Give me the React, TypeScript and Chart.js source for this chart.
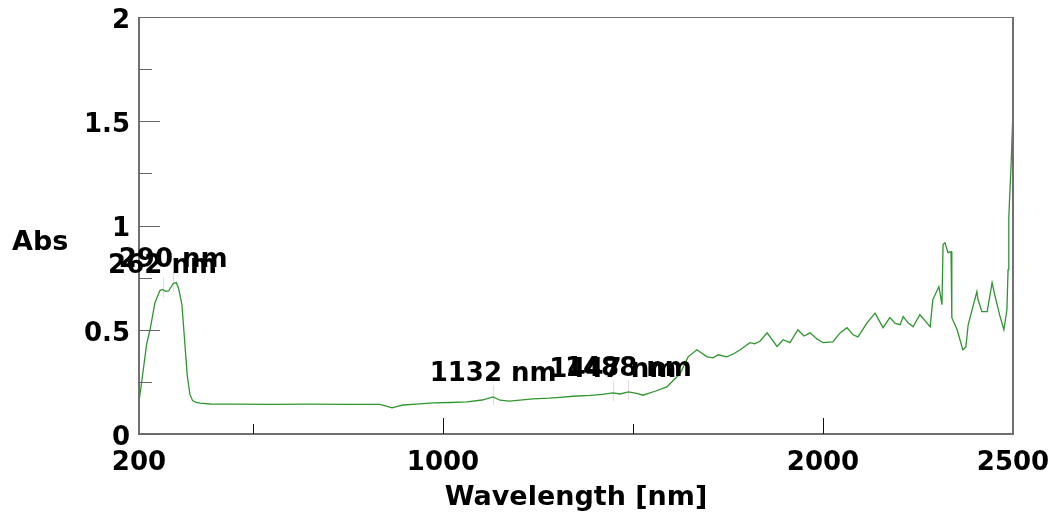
import React, { useEffect, useRef } from 'react';
import { Chart, registerables } from 'chart.js';

Chart.register(...registerables);

const FONT = 'DejaVu Sans';

const wavelengths = [
  200, 210, 220, 229, 242, 255, 262, 270, 278, 290, 298, 304, 313, 320, 327, 334, 341, 350, 361, 387,
  450, 550, 650, 750, 834, 853, 866, 880, 895, 930, 974, 1020, 1063, 1103, 1132, 1150, 1175, 1237,
  1280, 1308, 1342, 1387, 1420, 1447, 1466, 1488, 1510, 1526, 1558, 1589, 1624, 1645, 1668, 1695,
  1711, 1724, 1747, 1765, 1782, 1808, 1820, 1834, 1853, 1879, 1895, 1913, 1934, 1950, 1966, 1985,
  2000, 2026, 2045, 2063, 2079, 2092, 2116, 2137, 2158, 2176, 2190, 2203, 2211, 2224, 2237, 2255,
  2270, 2282, 2289, 2305, 2313, 2316, 2321, 2329, 2337, 2339, 2353, 2368, 2376, 2382, 2405, 2408,
  2418, 2432, 2445, 2453, 2466, 2476, 2484, 2487, 2489, 2492, 2495, 2498, 2500,
];

const absorbance = [
  0.154, 0.29, 0.43, 0.5, 0.63, 0.688, 0.693, 0.684, 0.686, 0.722, 0.726, 0.7, 0.62, 0.45, 0.28, 0.19, 0.16, 0.152, 0.148, 0.144,
  0.143, 0.142, 0.143, 0.142, 0.142, 0.132, 0.125, 0.132, 0.139, 0.143, 0.149, 0.151, 0.154, 0.163, 0.178, 0.162, 0.158, 0.168,
  0.172, 0.176, 0.181, 0.185, 0.19, 0.197, 0.192, 0.202, 0.195, 0.186, 0.205, 0.226, 0.29, 0.37, 0.404, 0.37,
  0.365, 0.38, 0.37, 0.385, 0.404, 0.438, 0.432, 0.445, 0.485, 0.42, 0.452, 0.438, 0.5, 0.47, 0.485, 0.455,
  0.438, 0.442, 0.485, 0.51, 0.476, 0.466, 0.533, 0.58, 0.51, 0.558, 0.53, 0.524, 0.563, 0.533, 0.514, 0.572,
  0.54, 0.514, 0.644, 0.707, 0.62, 0.909, 0.918, 0.87, 0.875, 0.558, 0.5, 0.404, 0.418, 0.524, 0.683, 0.644,
  0.587, 0.587, 0.726, 0.659, 0.563, 0.5, 0.596, 0.788, 1.04, 1.17, 1.29, 1.45, 1.55,
];

const xTickLabels = [200, 1000, 2000, 2500];
const xMajorTicks = [1000, 2000];
const xMinorTicks = [500, 1500];
const yTickLabels = [0, 0.5, 1, 1.5, 2];
const yMinorTicks = [0.25, 0.75, 1.25, 1.75];

const peakNm = [262, 290, 1132, 1447, 1488];
const peakAbs = [0.693, 0.722, 0.178, 0.197, 0.202];
const peakText = ['262 nm', '290 nm', '1132 nm', '1447 nm', '1488 nm'];

const yAxisLabel = 'Abs';
const xAxisLabel = 'Wavelength [nm]';

const clearPadding = (s: any) => {
  s.paddingLeft = 0;
  s.paddingRight = 0;
  s.paddingTop = 0;
  s.paddingBottom = 0;
};

const decorPlugin = {
  id: 'decor',
  beforeDatasetsDraw(chart: any) {
    const { ctx, scales } = chart;
    const x = scales.x;
    const y = scales.y;
    ctx.save();
    ctx.strokeStyle = '#e4dae4';
    ctx.lineWidth = 1;
    peakNm.forEach((nm, i) => {
      const px = Math.round(x.getPixelForValue(nm)) + 0.5;
      const py = y.getPixelForValue(peakAbs[i]);
      ctx.beginPath();
      ctx.moveTo(px, py - 12);
      ctx.lineTo(px, py + 8);
      ctx.stroke();
    });
    ctx.restore();
  },
  afterDatasetsDraw(chart: any) {
    const { ctx, chartArea: a, scales } = chart;
    const x = scales.x;
    const y = scales.y;
    ctx.save();
    // frame
    ctx.strokeStyle = '#707070';
    ctx.lineWidth = 2;
    ctx.beginPath();
    ctx.moveTo(a.left, a.top);
    ctx.lineTo(a.left, a.bottom);
    ctx.lineTo(a.right, a.bottom);
    ctx.lineTo(a.right, a.top);
    ctx.stroke();
    ctx.lineWidth = 1;
    ctx.beginPath();
    ctx.moveTo(a.left, a.top + 0.5);
    ctx.lineTo(a.right, a.top + 0.5);
    ctx.stroke();

    // y ticks (inside)
    ctx.strokeStyle = '#666666';
    ctx.lineWidth = 1;
    yTickLabels.forEach((v) => {
      const py = Math.round(y.getPixelForValue(v)) + 0.5;
      ctx.beginPath();
      ctx.moveTo(a.left, py);
      ctx.lineTo(a.left + 21, py);
      ctx.stroke();
    });
    yMinorTicks.forEach((v) => {
      const py = Math.round(y.getPixelForValue(v)) + 0.5;
      ctx.beginPath();
      ctx.moveTo(a.left, py);
      ctx.lineTo(a.left + 13, py);
      ctx.stroke();
    });

    // x ticks (inside)
    ctx.strokeStyle = '#111111';
    xMajorTicks.forEach((v) => {
      const px = Math.round(x.getPixelForValue(v)) + 0.5;
      ctx.beginPath();
      ctx.moveTo(px, a.bottom);
      ctx.lineTo(px, a.bottom - 16);
      ctx.stroke();
    });
    xMinorTicks.forEach((v) => {
      const px = Math.round(x.getPixelForValue(v)) + 0.5;
      ctx.beginPath();
      ctx.moveTo(px, a.bottom);
      ctx.lineTo(px, a.bottom - 10);
      ctx.stroke();
    });

    // peak labels
    ctx.fillStyle = '#000';
    ctx.font = `bold 26px "${FONT}"`;
    ctx.textAlign = 'center';
    ctx.textBaseline = 'middle';
    peakNm.forEach((nm, i) => {
      const px = x.getPixelForValue(nm);
      const py = y.getPixelForValue(peakAbs[i]);
      ctx.fillText(peakText[i], px, py - 23);
    });

    // y axis label
    ctx.font = `bold 27px "${FONT}"`;
    ctx.textAlign = 'left';
    ctx.fillText(yAxisLabel, 12, 243);
    ctx.restore();
  },
};

export default function App() {
  const ref = useRef<HTMLCanvasElement | null>(null);

  useEffect(() => {
    const canvas = ref.current;
    if (!canvas) return;
    const points = wavelengths.map((w, i) => ({ x: w, y: absorbance[i] }));
    const chart = new Chart(canvas, {
      type: 'line',
      data: {
        datasets: [
          {
            data: points,
            borderColor: '#2e962e',
            borderWidth: 1.3,
            pointRadius: 0,
            tension: 0,
            fill: false,
          },
        ],
      },
      options: {
        animation: false,
        responsive: false,
        layout: { padding: { left: 0, right: 45, top: 17, bottom: 0 } },
        plugins: {
          legend: { display: false },
          tooltip: { enabled: false },
        },
        scales: {
          x: {
            type: 'linear',
            min: 200,
            max: 2500,
            afterBuildTicks: (s: any) => {
              s.ticks = xTickLabels.map((v) => ({ value: v }));
            },
            afterFit: (s: any) => {
              s.height = 81;
              clearPadding(s);
            },
            grid: { display: false, drawTicks: false },
            border: { display: false },
            ticks: {
              autoSkip: false,
              maxRotation: 0,
              padding: 14,
              color: '#000',
              font: { family: FONT, size: 26, weight: 'bold' },
              callback: (v: any) => String(v),
            },
            title: {
              display: true,
              text: xAxisLabel,
              color: '#000',
              font: { family: FONT, size: 27, weight: 'bold', lineHeight: 1 },
              padding: { top: 0, bottom: 4 },
            },
          },
          y: {
            type: 'linear',
            min: 0,
            max: 2,
            afterBuildTicks: (s: any) => {
              s.ticks = yTickLabels.map((v) => ({ value: v }));
            },
            afterFit: (s: any) => {
              s.width = 139;
              clearPadding(s);
            },
            grid: { display: false, drawTicks: false },
            border: { display: false },
            ticks: {
              padding: 9,
              labelOffset: 4,
              color: '#000',
              font: { family: FONT, size: 26, weight: 'bold' },
              callback: (v: any) => String(v),
            },
          },
        },
      },
      plugins: [decorPlugin],
    } as any);
    return () => chart.destroy();
  }, []);

  return (
    <div style={{ position: 'fixed', left: 0, top: 0, width: 1058, height: 515, background: '#fff' }}>
      <canvas ref={ref} width={1058} height={515} />
    </div>
  );
}
